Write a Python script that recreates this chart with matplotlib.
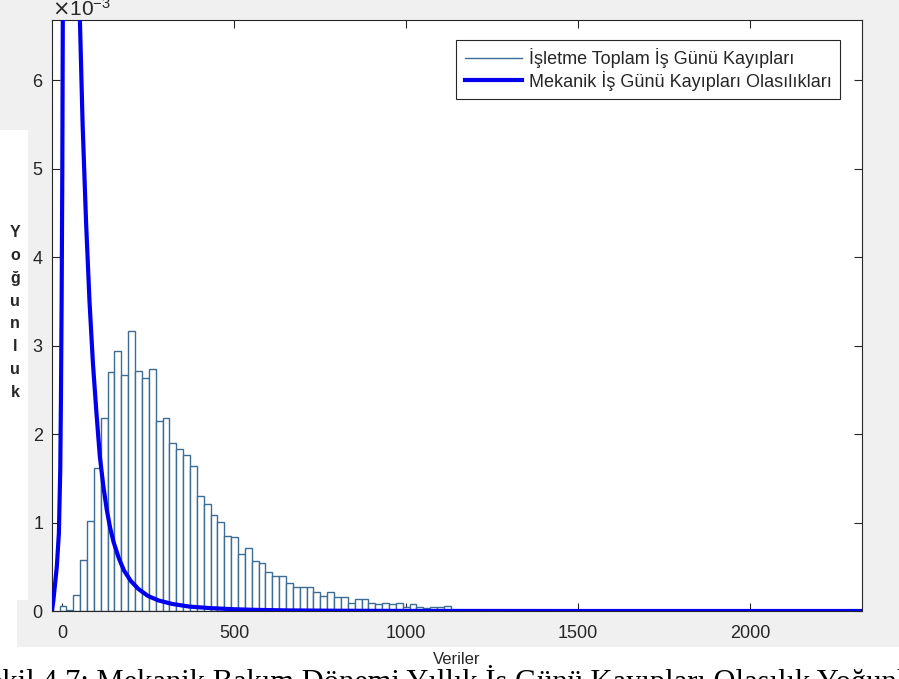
import numpy as np
import matplotlib
matplotlib.use('Agg')
import matplotlib.pyplot as plt
from matplotlib.lines import Line2D
from matplotlib.patches import Rectangle
from matplotlib.ticker import ScalarFormatter

# histogram of the data (density, in units of 1e-3), equal-width bins
hist_start = -6.9
hist_width = 19.95
hist_density = [0.06, 0.015,
                0.18, 0.58, 1.02, 1.62, 2.18, 2.70, 2.94, 2.67, 3.17, 2.71,
                2.63, 2.73, 2.15, 2.18, 1.90, 1.83, 1.76, 1.64, 1.30, 1.21,
                1.09, 1.01, 0.85, 0.84, 0.64, 0.71, 0.57, 0.54, 0.44, 0.39,
                0.39, 0.32, 0.27, 0.27, 0.27, 0.21, 0.17, 0.21, 0.16, 0.16,
                0.09, 0.13, 0.13, 0.09, 0.08, 0.09, 0.08, 0.09, 0.05, 0.08,
                0.04, 0.03, 0.05, 0.05, 0.06]

# fitted density curve (y in 1e-3)
curve_x = [-29, -25, -15, -9, -5, -3, -1, 1, 2.5, 6, 12, 20, 30, 40, 46, 52,
           60, 70, 80, 90, 100, 110, 120, 130, 140, 150, 165, 180, 200, 222,
           250, 280, 320, 370, 430, 500, 560, 650, 800, 1000, 1500, 2326]
curve_y = [0, 0.12, 0.5, 0.88, 1.6, 2.4, 3.5, 5.0, 6.8, 8.3, 9.3, 9.6, 9.0,
           8.0, 7.3, 6.7, 5.5, 4.4, 3.5, 2.8, 2.25, 1.75, 1.42, 1.15, 0.94,
           0.78, 0.6, 0.46, 0.34, 0.25, 0.17, 0.12, 0.08, 0.05, 0.033, 0.02,
           0.013, 0.007, 0.003, 0.001, 0.0, 0.0]

x_ticks = [0, 500, 1000, 1500, 2000]
y_ticks = [0, 1, 2, 3, 4, 5, 6]

legend_labels = ['İşletme Toplam İş Günü Kayıpları',
                 'Mekanik İş Günü Kayıpları Olasılıkları']
x_label = 'Veriler'
y_label = 'Yoğunluk'
caption = 'Şekil 4.7: Mekanik Bakım Dönemi Yıllık İş Günü Kayıpları Olasılık Yoğunluk Grafiği'

plt.rcParams['font.family'] = ['Liberation Sans', 'DejaVu Sans']
dark = '#262626'
bar_edge = '#3d6d94'
curve_col = '#0000ee'

W, H = 899, 679
fig = plt.figure(figsize=(W / 100, H / 100), dpi=100)
fig.patch.set_facecolor('white')

# matlab window background and the white label boxes of the document
fig.patches.append(Rectangle((0, (H - 647) / H), 1, 647 / H, transform=fig.transFigure,
                             facecolor='#f0f0f0', edgecolor='none', zorder=-10))
fig.patches.append(Rectangle((0, (H - 600) / H), 28 / W, 470 / H, transform=fig.transFigure,
                             facecolor='white', edgecolor='none', zorder=-9))
fig.patches.append(Rectangle((0, (H - 647) / H), 17 / W, 47 / H, transform=fig.transFigure,
                             facecolor='white', edgecolor='none', zorder=-9))

ax = fig.add_axes([52 / W, (H - 611) / H, 810 / W, 591 / H])
ax.set_facecolor('white')

n = len(hist_density)
lefts = hist_start + hist_width * np.arange(n)
ax.bar(lefts, np.array(hist_density) * 1e-3, width=hist_width, align='edge',
       facecolor='white', edgecolor=bar_edge, linewidth=1.0, zorder=2)

ax.plot(curve_x, np.array(curve_y) * 1e-3, color=curve_col, linewidth=3.0,
        zorder=3)

ax.set_xlim(-29, 2326)
ax.set_ylim(0, 6.68e-3)
ax.set_xticks(x_ticks)
ax.set_yticks(np.array(y_ticks) * 1e-3)

fmt = ScalarFormatter(useMathText=True)
fmt.set_powerlimits((-2, 2))
ax.yaxis.set_major_formatter(fmt)
ax.yaxis.get_offset_text().set_fontsize(15)
ax.yaxis.get_offset_text().set_color(dark)

ax.tick_params(direction='in', length=6, width=0.8, colors=dark, labelsize=13,
               top=True, right=True)
ax.tick_params(axis='y', pad=6)
ax.tick_params(axis='x', pad=10)
for s in ax.spines.values():
    s.set_color(dark)
    s.set_linewidth(0.8)

ax.set_xlabel(x_label, fontsize=12, color=dark, labelpad=7)
ax.set_ylabel('\n'.join(y_label), rotation=0, fontsize=11.5, color=dark,
              linespacing=1.65, va='center', ha='center', fontweight='bold')
ax.yaxis.set_label_coords(-37 / 810, 0.505)

handles = [Line2D([], [], color=bar_edge, linewidth=1.0),
           Line2D([], [], color=curve_col, linewidth=3.0)]
leg = ax.legend(handles, legend_labels, loc='upper right',
                bbox_to_anchor=((840 - 52) / 810, (611 - 40) / 591),
                borderaxespad=0, fontsize=13, handlelength=3.2,
                handletextpad=0.35, labelspacing=0.12, borderpad=0.47,
                fancybox=False, framealpha=1, edgecolor=dark)
leg.get_frame().set_linewidth(0.8)
for t in leg.get_texts():
    t.set_color(dark)

# caption of the document, cut by the bottom of the picture
fig.text(-28 / W, -12 / H, caption, fontsize=22, family='Liberation Serif',
         color='black', ha='left', va='baseline')

fig.savefig('out.png', dpi=100)
